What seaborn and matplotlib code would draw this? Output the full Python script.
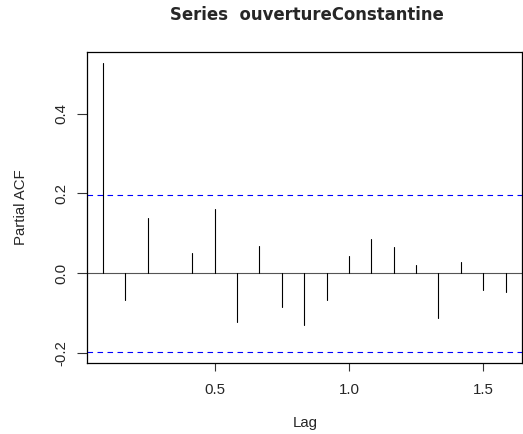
import numpy as np
import pandas as pd
import matplotlib
matplotlib.use("Agg")
import matplotlib.pyplot as plt
import seaborn as sns

# Partial autocorrelations of the monthly series (lag in years)
lag_index = np.arange(1, 20)
lags = lag_index / 12.0
pacf_vals = [0.526, -0.067, 0.138, 0.001, 0.051, 0.161, -0.123, 0.067, -0.084,
             -0.129, -0.067, 0.042, 0.086, 0.066, 0.021, -0.112, 0.028, -0.041, -0.048]
n_obs = 99
conf = 1.96 / np.sqrt(n_obs)

x_ticks = [0.5, 1.0, 1.5]
y_ticks = [-0.2, 0.0, 0.2, 0.4]

sns.set_style("white")
plt.rcParams["font.family"] = ["Liberation Sans", "DejaVu Sans"]

W, H = 523, 434
fig = plt.figure(figsize=(W / 100, H / 100), dpi=100)
left, right, top, bottom = 86.7, 521.7, 51.7, 363.3
ax = fig.add_axes([left / W, 1 - bottom / H, (right - left) / W, (bottom - top) / H])

# each spike as a two-point segment from zero to the coefficient
spikes = pd.DataFrame({
    "lag": np.repeat(lags, 2),
    "value": np.ravel([[0.0, v] for v in pacf_vals]),
    "unit": np.repeat(lag_index, 2),
})
sns.lineplot(data=spikes, x="lag", y="value", units="unit", estimator=None,
             color="black", linewidth=0.8, ax=ax, legend=False)

ax.axhline(0, color="#555555", linewidth=0.8, zorder=1)
for c in (conf, -conf):
    ax.axhline(c, color="blue", linewidth=0.8, linestyle=(0, (5, 4)), zorder=1)

# R-style 4% padding around the data range
x0, x1 = lags.min(), lags.max()
dx = 0.04 * (x1 - x0)
ax.set_xlim(x0 - dx, x1 + dx)
y0, y1 = min(-conf, min(pacf_vals)), max(conf, max(pacf_vals))
dy = 0.04 * (y1 - y0)
ax.set_ylim(y0 - dy, y1 + dy)

ax.set_xticks(x_ticks)
ax.set_xticklabels([f"{t:.1f}" for t in x_ticks])
ax.set_yticks(y_ticks)
ax.set_yticklabels([f"{t:.1f}" for t in y_ticks])
ax.tick_params(axis="x", length=5.5, width=0.8, pad=8.6, labelsize=10.8,
               direction="out", bottom=True, color="#333333")
ax.tick_params(axis="y", length=7.2, width=0.8, pad=6.3, labelsize=10.8,
               direction="out", left=True, color="#333333")
plt.setp(ax.get_yticklabels(), rotation=90, va="center")
ax.set_xlabel("")
ax.set_ylabel("")

for s in ax.spines.values():
    s.set_visible(True)
    s.set_color("black")
    s.set_linewidth(0.9)

fig.text(306.7 / W, 1 - 20 / H, "Series  ouvertureConstantine", ha="center",
         va="baseline", fontsize=11.9, fontweight="bold", family="DejaVu Sans")
fig.text(304.8 / W, 1 - 426.7 / H, "Lag", ha="center", va="baseline", fontsize=10.8)
fig.text(20.8 / W, 1 - 207.5 / H, "Partial ACF", ha="center", va="center",
         rotation=90, fontsize=10.8)

fig.savefig("out.png", dpi=100, facecolor="white")
